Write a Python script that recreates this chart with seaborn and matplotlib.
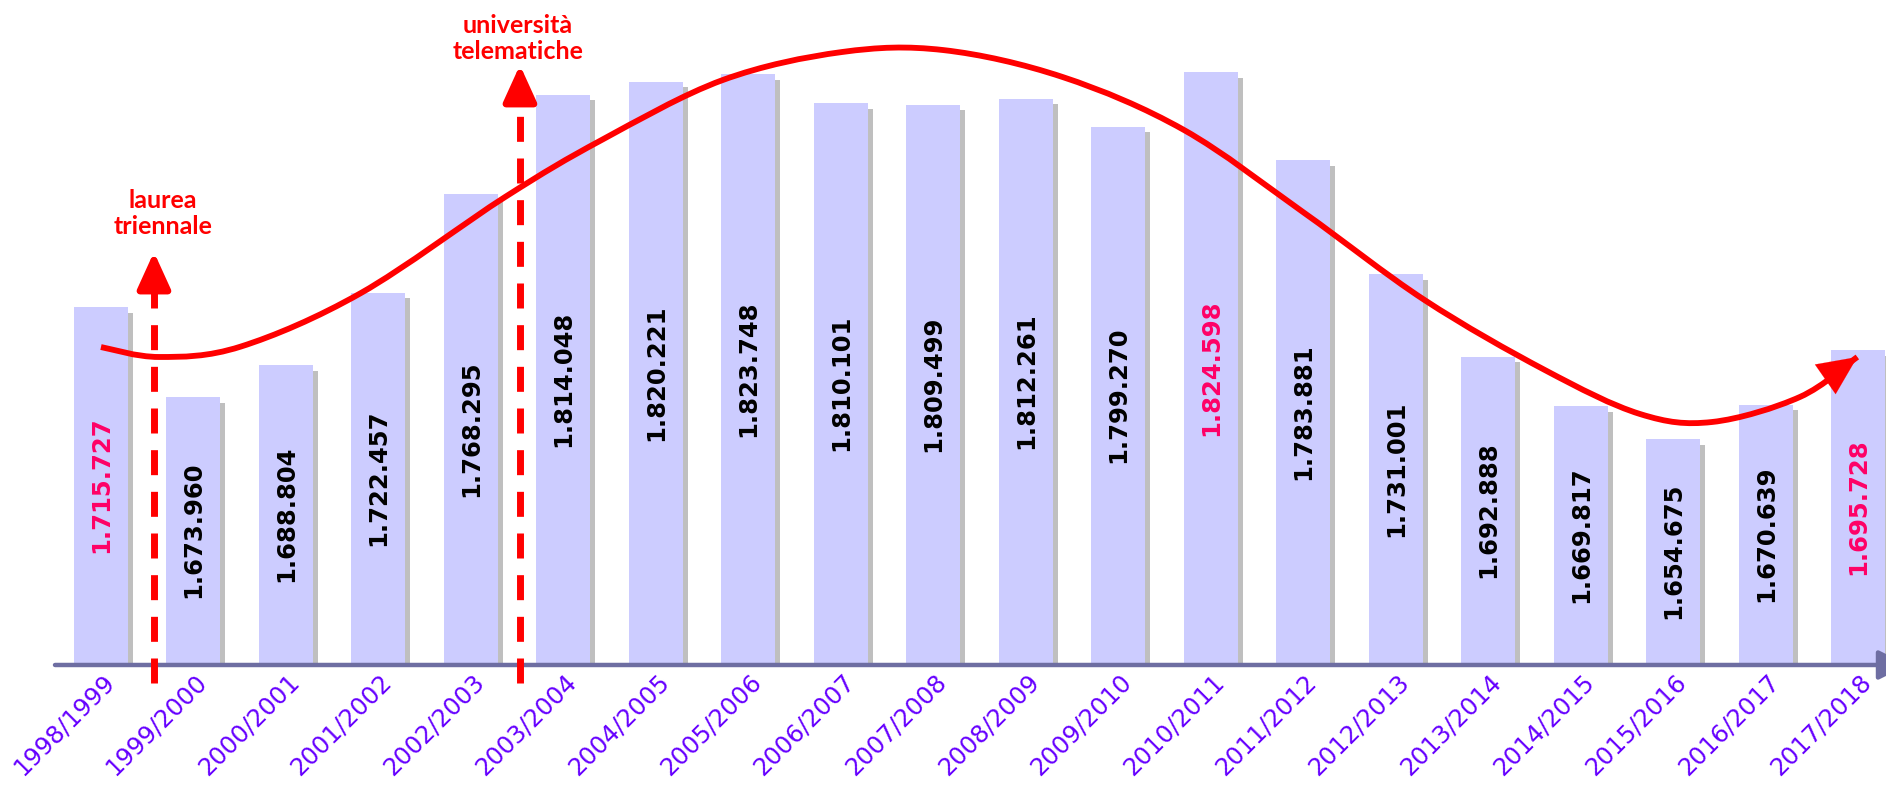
import numpy as np
import pandas as pd
import matplotlib
matplotlib.use("Agg")
import matplotlib.pyplot as plt
import matplotlib.patheffects as pe
import matplotlib.transforms as mtrans
from matplotlib.path import Path
from matplotlib.patches import PathPatch
import seaborn as sns

# ---------------- data ----------------
years = ["1998/1999", "1999/2000", "2000/2001", "2001/2002", "2002/2003",
         "2003/2004", "2004/2005", "2005/2006", "2006/2007", "2007/2008",
         "2008/2009", "2009/2010", "2010/2011", "2011/2012", "2012/2013",
         "2013/2014", "2014/2015", "2015/2016", "2016/2017", "2017/2018"]
students = [1715727, 1673960, 1688804, 1722457, 1768295,
            1814048, 1820221, 1823748, 1810101, 1809499,
            1812261, 1799270, 1824598, 1783881, 1731001,
            1692888, 1669817, 1654675, 1670639, 1695728]
highlighted = ["1998/1999", "2010/2011", "2017/2018"]

# hand-drawn trend curve (bar index, value)
trend_x = [0.00, 0.63, 1.51, 2.81, 4.37, 5.41, 6.72, 8.01, 9.11,
           10.40, 11.71, 13.01, 14.31, 15.61, 16.64, 17.42, 18.37, 18.99]
trend_y = [1697300, 1692700, 1697500, 1722300, 1766800, 1793100, 1820900,
           1833900, 1834800, 1822300, 1797800, 1759400, 1719100, 1686700,
           1666300, 1662600, 1674200, 1692700]

# event markers
event_labels = ["laurea\ntriennale", "università\ntelematiche"]
event_x = [0.573, 4.53]
event_top = [1741300, 1827900]
event_text_x = [0.67, 4.51]
event_text_y = [1747800, 1828800]

y_floor, y_ceil = 1551000, 1858000

# ---------------- style ----------------
sns.set_style("white")
plt.rcParams["font.family"] = ["DejaVu Sans"]

BAR = "#CCCCFF"
RED = "#FF0000"
PINK = "#FF0066"
PURPLE = "#6600FF"
AXISC = "#6E6EA2"

df = pd.DataFrame({"year": years, "students": students})

fig = plt.figure(figsize=(18.86, 7.92), dpi=100)
ax = fig.add_axes([55 / 1886, 1 - 663 / 792, 1 - 55 / 1886, 663 / 792])

sns.barplot(data=df, x="year", y="students", order=years, color=BAR,
            saturation=1, width=0.584, ax=ax, zorder=2)

shadow = [pe.SimplePatchShadow(offset=(3.5, -4), shadow_rgbFace="0.5", alpha=0.5),
          pe.Normal()]
for p in ax.patches:
    p.set_path_effects(shadow)
    p.set_edgecolor("none")

ax.set_xlim(-0.497, 19.30)
ax.set_ylim(y_floor, y_ceil)

# value labels inside bars
for p, yr, v in zip(ax.patches, years, students):
    cx = p.get_x() + p.get_width() / 2
    lab = f"{v:,}".replace(",", ".")
    ax.text(cx, (y_floor + v) / 2, lab, rotation=90, ha="center", va="center",
            fontsize=17.5, fontweight="bold",
            color=PINK if yr in highlighted else "black", zorder=5)

# axes cosmetics
for s in ax.spines.values():
    s.set_visible(False)
ax.set_yticks([])
ax.set_xlabel("")
ax.set_ylabel("")
ax.tick_params(axis="x", length=0, pad=5)
ax.set_xticks(range(len(years)))
ax.set_xticklabels(years, rotation=45, ha="right", rotation_mode="anchor",
                   fontsize=17.5, color=PURPLE)
off = mtrans.ScaledTranslation(1 / 100, 0, fig.dpi_scale_trans)
for t in ax.get_xticklabels():
    t.set_transform(t.get_transform() + off)

# x axis line with arrow
ax.annotate("", xy=(1.012, -0.003), xytext=(0, -0.003), xycoords="axes fraction",
            textcoords="axes fraction", annotation_clip=False,
            arrowprops=dict(arrowstyle="-|>,head_length=0.9,head_width=0.45",
                            color=AXISC, lw=3.2, mutation_scale=20,
                            shrinkA=0, shrinkB=0), zorder=4)

# trend curve: smooth cubic path through the sketch points
pts = np.column_stack([trend_x, trend_y]).astype(float)
ext = np.vstack([pts[0], pts, pts[-1]])
verts = [tuple(pts[0])]
codes = [Path.MOVETO]
for i in range(1, len(ext) - 2):
    p0, p1, p2, p3 = ext[i - 1], ext[i], ext[i + 1], ext[i + 2]
    c1 = p1 + (p2 - p0) / 6.0
    c2 = p2 - (p3 - p1) / 6.0
    verts += [tuple(c1), tuple(c2), tuple(p2)]
    codes += [Path.CURVE4] * 3
ax.add_patch(PathPatch(Path(verts, codes), fill=False, edgecolor=RED, lw=4.2,
                       capstyle="butt", joinstyle="round", zorder=6))
ax.annotate("", xy=verts[-1], xytext=verts[-2],
            arrowprops=dict(arrowstyle="-|>,head_length=1.4,head_width=0.65",
                            color=RED, lw=0.1, mutation_scale=20,
                            shrinkA=0, shrinkB=0), zorder=7)

# event dashed arrows
px = (y_ceil - y_floor) / 663.0  # data units per pixel
for lab, ex, top, tx, ty in zip(event_labels, event_x, event_top,
                                event_text_x, event_text_y):
    bottom = y_floor - 20 * px
    ax.plot([ex, ex], [bottom, top - 30 * px], color=RED, lw=5,
            dashes=(3.6, 2.4), clip_on=False, zorder=7,
            dash_capstyle="butt")
    ax.annotate("", xy=(ex, top), xytext=(ex, top - 34 * px),
                arrowprops=dict(arrowstyle="-|>,head_length=1.1,head_width=0.5",
                                color=RED, lw=5, mutation_scale=20,
                                shrinkA=0, shrinkB=0), zorder=7)
    ax.text(tx, ty, lab, ha="center", va="bottom", fontsize=18,
            family=["Lato", "DejaVu Sans"], fontweight="bold", color=RED,
            linespacing=1.15, zorder=7)

fig.savefig("out.png", dpi=100)
